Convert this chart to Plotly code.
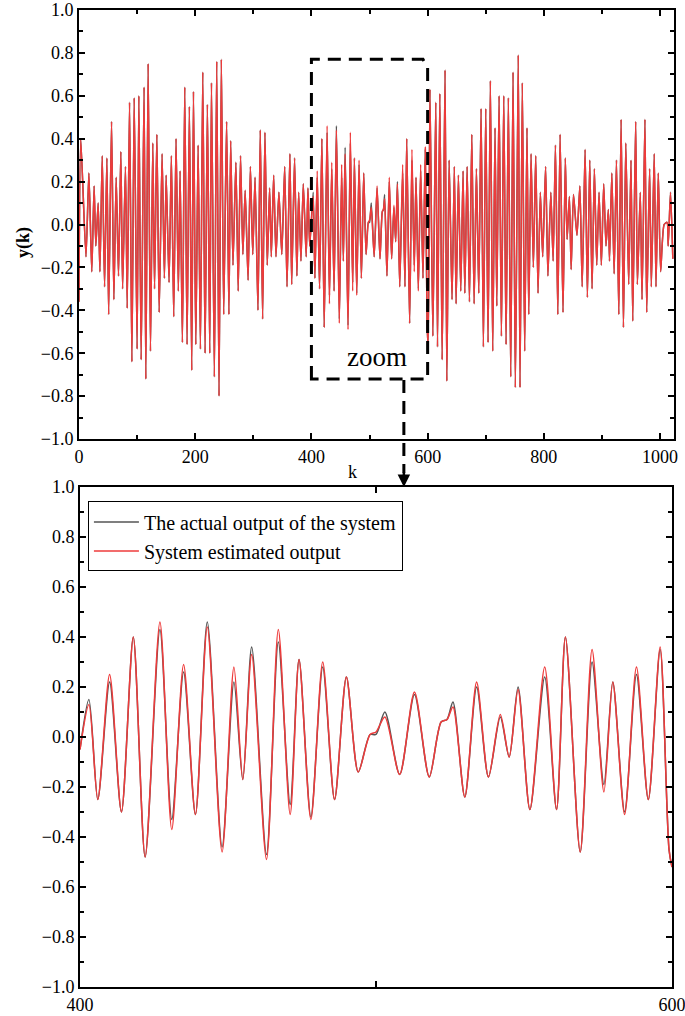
import numpy as np
import plotly.graph_objects as go

# ---- data (extrema of the response) ----
# k < 400, top panel
left_k = [0, 3, 12, 17, 22, 26, 29, 33, 36, 40, 44, 48, 51, 56, 60, 64, 68, 72, 75, 80,
          83, 87, 91, 95, 100, 103, 107, 112, 115, 119, 123, 127, 130, 134, 138, 143, 147, 150, 155, 159,
          163, 167, 171, 174, 178, 182, 186, 190, 194, 197, 201, 205, 209, 213, 217, 221, 225, 228, 233, 237,
          241, 245, 249, 254, 258, 261, 265, 270, 274, 278, 282, 286, 291, 295, 299, 303, 308, 312, 316, 320,
          324, 328, 331, 335, 339, 344, 349, 354, 358, 363, 366, 371, 375, 378, 382, 386, 391, 394, 397]
left_y = [-0.36, 0.40, -0.15, 0.24, -0.22, 0.18, -0.10, 0.10, -0.22, 0.32, -0.29, 0.31, -0.42, 0.48, -0.35, 0.22, -0.24, 0.34, -0.30, 0.27,
          -0.39, 0.57, -0.64, 0.59, -0.58, 0.60, -0.63, 0.64, -0.72, 0.75, -0.59, 0.38, -0.30, 0.42, -0.41, 0.33, -0.25, 0.23, -0.27, 0.32,
          -0.43, 0.40, -0.31, 0.25, -0.55, 0.64, -0.56, 0.55, -0.68, 0.62, -0.56, 0.37, -0.58, 0.71, -0.60, 0.56, -0.60, 0.66, -0.71, 0.76,
          -0.80, 0.77, -0.42, 0.48, -0.42, 0.39, -0.19, 0.29, -0.31, 0.32, -0.14, 0.16, -0.26, 0.27, -0.14, 0.22, -0.40, 0.44, -0.44, 0.43,
          -0.19, 0.17, -0.15, 0.23, -0.15, 0.15, -0.14, 0.27, -0.29, 0.33, -0.28, 0.31, -0.24, 0.15, -0.17, 0.19, -0.15, 0.17, -0.10]

# 400 <= k <= 600, zoomed panel
zoom_k = [400, 403, 406, 410, 414, 418, 422, 427, 431, 435, 439, 443, 448, 452, 455, 458, 463, 467, 471, 474,
          478, 482, 486, 490, 494, 498, 500, 503, 508, 513, 518, 522, 524, 526, 530, 534, 538, 542, 545, 548,
          552, 557, 561, 564, 569, 573, 577, 580, 584, 588, 592, 596, 599, 600]
zoom_actual = [-0.05, 0.15, -0.25, 0.22, -0.30, 0.40, -0.48, 0.43, -0.33, 0.26, -0.31, 0.46, -0.44, 0.22, -0.17, 0.36, -0.47, 0.38, -0.27, 0.31,
               -0.32, 0.28, -0.25, 0.24, -0.14, 0.01, 0.01, 0.10, -0.15, 0.17, -0.16, 0.06, 0.07, 0.14, -0.24, 0.20, -0.16, 0.08, -0.08, 0.20,
               -0.29, 0.24, -0.29, 0.40, -0.46, 0.30, -0.19, 0.22, -0.30, 0.25, -0.25, 0.35, -0.45, -0.52]
zoom_est = [-0.05, 0.13, -0.25, 0.25, -0.30, 0.40, -0.48, 0.46, -0.37, 0.29, -0.31, 0.44, -0.46, 0.28, -0.17, 0.33, -0.49, 0.43, -0.31, 0.31,
            -0.33, 0.30, -0.25, 0.24, -0.14, 0.01, 0.02, 0.08, -0.15, 0.18, -0.16, 0.06, 0.07, 0.12, -0.24, 0.22, -0.16, 0.09, -0.08, 0.19,
            -0.29, 0.28, -0.29, 0.40, -0.46, 0.35, -0.22, 0.22, -0.31, 0.28, -0.25, 0.36, -0.45, -0.52]

# k > 600, top panel
right_k = [601, 604, 609, 614, 617, 621, 625, 630, 633, 637, 642, 646, 649, 653, 657, 661, 664, 668, 672, 676,
           680, 684, 688, 692, 696, 700, 704, 708, 712, 716, 719, 723, 727, 731, 735, 739, 743, 747, 751, 756,
           759, 763, 767, 771, 774, 778, 782, 786, 790, 794, 798, 803, 807, 812, 816, 820, 824, 828, 833, 837,
           840, 844, 847, 851, 857, 862, 866, 871, 875, 879, 883, 887, 891, 895, 899, 903, 907, 911, 913, 917,
           921, 925, 929, 933, 937, 941, 946, 950, 953, 958, 961, 966, 969, 974, 977, 982, 985, 990, 993, 997,
           1001, 1007, 1012, 1014, 1018, 1022]
right_y = [-0.57, 0.63, -0.52, 0.57, -0.57, 0.61, -0.63, 0.72, -0.73, 0.30, -0.35, 0.27, -0.37, 0.23, -0.31, 0.25, -0.32, 0.27, -0.36, 0.42,
           -0.37, 0.26, -0.32, 0.54, -0.57, 0.54, -0.55, 0.67, -0.59, 0.45, -0.38, 0.60, -0.52, 0.60, -0.56, 0.59, -0.71, 0.71, -0.76, 0.79,
           -0.76, 0.66, -0.59, 0.45, -0.42, 0.33, -0.20, 0.32, -0.32, 0.15, -0.15, 0.27, -0.24, 0.15, -0.17, 0.37, -0.42, 0.42, -0.41, 0.31,
           -0.07, 0.13, -0.21, 0.14, -0.05, 0.18, -0.29, 0.35, -0.34, 0.30, -0.30, 0.26, -0.19, 0.15, -0.19, 0.19, -0.10, 0.07, -0.17, 0.24,
           -0.23, 0.30, -0.42, 0.49, -0.48, 0.38, -0.28, 0.30, -0.45, 0.48, -0.28, 0.15, -0.35, 0.49, -0.41, 0.26, -0.29, 0.33, -0.29, 0.24,
           -0.22, 0.0, 0.01, -0.10, 0.15, -0.16]

y_ticks = [-1.0, -0.8, -0.6, -0.4, -0.2, 0.0, 0.2, 0.4, 0.6, 0.8, 1.0]
top_x_ticks = [0, 200, 400, 600, 800, 1000]
zoom_x_ticks = [400, 500, 600]
zoom_x_labels = ["400", "", "600"]

names = ["The actual output of the system", "System estimated output"]

k_all = np.concatenate([left_k, zoom_k[1:-1], right_k])
actual_all = np.concatenate([left_y, zoom_actual[1:-1], right_y])
est_all = np.concatenate([left_y, zoom_est[1:-1], right_y])

GRAY = "#555555"
RED = "#EE3B3B"
SERIF = "Liberation Serif"

fig = go.Figure()
fig.add_trace(go.Scatter(x=k_all, y=actual_all, mode="lines",
                         line=dict(color=GRAY, width=1.5, shape="spline", smoothing=0.6),
                         showlegend=False, xaxis="x", yaxis="y"))
fig.add_trace(go.Scatter(x=k_all, y=est_all, mode="lines",
                         line=dict(color=RED, width=1.5, shape="spline", smoothing=0.6),
                         showlegend=False, xaxis="x", yaxis="y"))
fig.add_trace(go.Scatter(x=zoom_k, y=zoom_actual, mode="lines", name=names[0],
                         line=dict(color=GRAY, width=1.5, shape="spline", smoothing=0.8),
                         xaxis="x2", yaxis="y2"))
fig.add_trace(go.Scatter(x=zoom_k, y=zoom_est, mode="lines", name=names[1],
                         line=dict(color=RED, width=1.5, shape="spline", smoothing=0.8),
                         xaxis="x2", yaxis="y2"))

axis_style = dict(showline=True, linewidth=2, linecolor="black", mirror="ticks", ticks="inside",
                  ticklen=6, tickwidth=2, tickcolor="black", showgrid=False, zeroline=False,
                  ticklabeloverflow="allow",
                  tickfont=dict(family=SERIF, size=18, color="black"))

fig.update_layout(
    width=685, height=1016,
    margin=dict(l=79, r=11, t=10, b=29, autoexpand=False),
    plot_bgcolor="white", paper_bgcolor="white",
    font=dict(family=SERIF, color="black"),
    xaxis=dict(domain=[0, 1], range=[0, 1024], anchor="y", tickvals=top_x_ticks,
               minor=dict(ticks="inside", ticklen=4, dtick=100, tickcolor="black"), **axis_style),
    yaxis=dict(domain=[0.5609, 1], range=[-1, 1], anchor="x", tickvals=y_ticks, tickformat=".1f",
               minor=dict(ticks="inside", ticklen=4, dtick=0.1, tickcolor="black"), **axis_style),
    xaxis2=dict(domain=[0.0017, 0.9966], range=[400, 600], anchor="y2", tickvals=zoom_x_ticks,
                ticktext=zoom_x_labels, **axis_style),
    yaxis2=dict(domain=[0, 0.5118], range=[-1, 1], anchor="x2", tickvals=y_ticks, tickformat=".1f",
                minor=dict(ticks="inside", ticklen=4, dtick=0.1, tickcolor="black"), **axis_style),
    legend=dict(x=0.015, y=0.497, xanchor="left", yanchor="top", bgcolor="white",
                bordercolor="black", borderwidth=1, font=dict(family=SERIF, size=20, color="black"),
                tracegroupgap=0, itemwidth=45),
)

# dashed zoom box with the clipped top-right corner
fig.add_shape(type="path", xref="x", yref="y",
              path="M 400,-0.72 L 400,0.77 L 592,0.77 L 600,0.73 L 600,-0.72 Z",
              line=dict(color="black", width=3, dash="13px,8px"))
# dashed arrow down to the zoomed panel
fig.add_shape(type="line", xref="paper", yref="paper", x0=0.546, x1=0.546, y0=0.6213, y1=0.526,
              line=dict(color="black", width=3, dash="13px,8px"))
fig.add_annotation(xref="paper", yref="paper", x=0.546, y=0.5118, ax=0, ay=-16, text="",
                   showarrow=True, arrowhead=2, arrowsize=1, arrowwidth=2.5, arrowcolor="black")

fig.add_annotation(xref="x", yref="y", x=513, y=-0.62, text="zoom", showarrow=False,
                   font=dict(family=SERIF, size=27, color="black"))
fig.add_annotation(xref="paper", yref="paper", x=-0.113, y=0.7796, text="<b>y(k)</b>", textangle=-90,
                   showarrow=False, font=dict(family=SERIF, size=18, color="black"))
fig.add_annotation(xref="paper", yref="paper", x=0.459, y=0.5276, text="k", showarrow=False,
                   font=dict(family=SERIF, size=18, color="black"))

# the page body has an 8px default margin; drop it so the figure fills the window
fig.write_html("out.html", config={"displayModeBar": False},
               post_script="document.body.style.margin='0';")
